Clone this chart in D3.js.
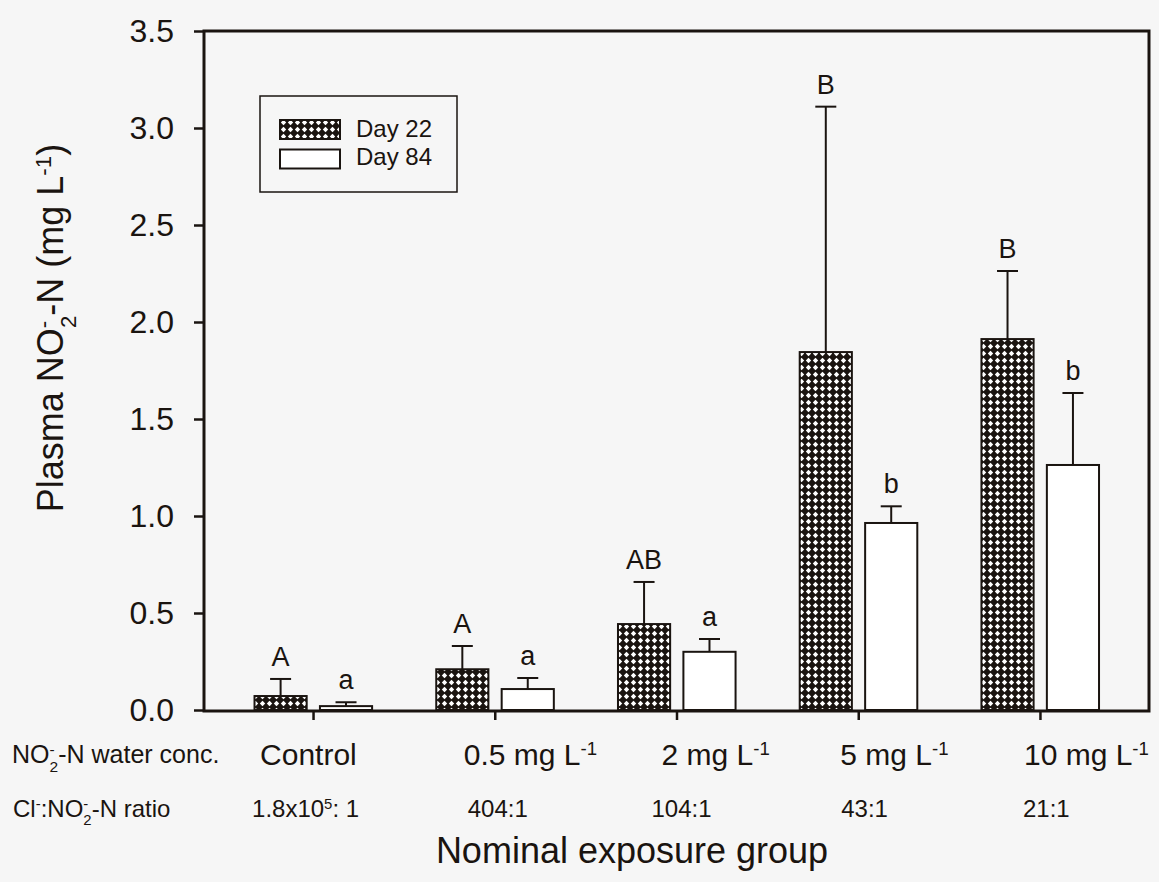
<!DOCTYPE html>
<html>
<head>
<meta charset="utf-8">
<script src="https://cdn.jsdelivr.net/npm/d3@7"></script>
<style>
  body { margin: 0; background: #f6f6f6; }
  svg { display: block; font-family: "Liberation Sans", Arial, sans-serif; }
</style>
</head>
<body>
<div id="chart"></div>
<script>
// plasma nitrite by exposure group, two sampling days
var groups    = ["Control", "0.5 mg L", "2 mg L", "5 mg L", "10 mg L"];
var ratios    = ["1.8x10", "404:1", "104:1", "43:1", "21:1"];
var day22     = [0.072, 0.21, 0.443, 1.845, 1.912];
var day22err  = [0.088, 0.12, 0.217, 1.265, 0.351];
var day84     = [0.02, 0.108, 0.30, 0.964, 1.263];
var day84err  = [0.02, 0.057, 0.066, 0.086, 0.371];
var day22lab  = ["A", "A", "AB", "B", "B"];
var day84lab  = ["a", "a", "a", "b", "b"];
var yTicks    = [0, 0.5, 1, 1.5, 2, 2.5, 3, 3.5];

var W = 1159, H = 882;
var ink = "#1a1410";
var m = {left: 204, right: 1149, top: 31, bottom: 711};

var svg = d3.select("#chart").append("svg")
    .attr("width", W).attr("height", H);

svg.append("rect").attr("width", W).attr("height", H).attr("fill", "#f6f6f6");

/// crosshatch for day 22
var pat = svg.append("defs").append("pattern")
    .attr("id", "hatch")
    .attr("patternUnits", "userSpaceOnUse")
    .attr("width", 7).attr("height", 7);
pat.append("rect").attr("width", 7).attr("height", 7).attr("fill", ink);
pat.append("path").attr("d", "M3.5,0.8L6.2,3.5L3.5,6.2L0.8,3.5Z").attr("fill", "#fff");

var x = d3.scaleLinear().domain([-0.6, 4.6]).range([m.left, m.right]);
var y = d3.scaleLinear().domain([0, 3.5]).range([m.bottom - 1, m.top]);

var barW = x(0.287) - x(0);
var off22 = x(-0.322) - x(0);
var off84 = x(0.038) - x(0);

/// axes
var yAxis = svg.append("g")
    .attr("transform", "translate(" + m.left + ",0)")
    .call(d3.axisLeft(y).tickValues(yTicks).tickFormat(d3.format(".1f"))
          .tickSize(10).tickPadding(20));
yAxis.select(".domain").remove();
yAxis.selectAll("line").attr("stroke", ink).attr("stroke-width", 2.5);
yAxis.selectAll("text").attr("fill", ink).attr("font-size", 32)
    .attr("font-family", "Liberation Sans, Arial, sans-serif");

var xAxis = svg.append("g")
    .attr("transform", "translate(0," + m.bottom + ")")
    .call(d3.axisBottom(x).tickValues(d3.range(groups.length)).tickFormat("").tickSize(9));
xAxis.select(".domain").remove();
xAxis.selectAll("line").attr("stroke", ink).attr("stroke-width", 2.5);

/// bars
function drawSeries(vals, errs, labs, off, fill) {
    var g = svg.append("g");
    g.selectAll("rect").data(vals).enter().append("rect")
        .attr("x", (d, i) => x(i) + off)
        .attr("y", d => y(d))
        .attr("width", barW)
        .attr("height", d => y(0) - y(d))
        .attr("fill", fill)
        .attr("stroke", ink).attr("stroke-width", 2);
    g.selectAll("line.err").data(vals).enter().append("line")
        .attr("class", "err")
        .attr("x1", (d, i) => x(i) + off + barW / 2)
        .attr("x2", (d, i) => x(i) + off + barW / 2)
        .attr("y1", d => y(d))
        .attr("y2", (d, i) => y(d + errs[i]))
        .attr("stroke", ink).attr("stroke-width", 2);
    g.selectAll("line.cap").data(vals).enter().append("line")
        .attr("class", "cap")
        .attr("x1", (d, i) => x(i) + off + barW / 2 - 10.5)
        .attr("x2", (d, i) => x(i) + off + barW / 2 + 10.5)
        .attr("y1", (d, i) => y(d + errs[i]))
        .attr("y2", (d, i) => y(d + errs[i]))
        .attr("stroke", ink).attr("stroke-width", 2);
    g.selectAll("text").data(vals).enter().append("text")
        .attr("x", (d, i) => x(i) + off + barW / 2)
        .attr("y", (d, i) => y(d + errs[i]) - 13)
        .attr("text-anchor", "middle")
        .attr("font-size", 27)
        .attr("fill", ink)
        .text((d, i) => labs[i]);
}
drawSeries(day22, day22err, day22lab, off22, "url(#hatch)");
drawSeries(day84, day84err, day84lab, off84, "#fff");

/// frame
svg.append("rect")
    .attr("x", m.left).attr("y", m.top)
    .attr("width", m.right - m.left).attr("height", m.bottom - m.top)
    .attr("fill", "none").attr("stroke", ink).attr("stroke-width", 3);

/// legend
var leg = svg.append("g");
leg.append("rect").attr("x", 260).attr("y", 96).attr("width", 197).attr("height", 96)
    .attr("fill", "none").attr("stroke", ink).attr("stroke-width", 1.5);
[["Day 22", "url(#hatch)"], ["Day 84", "#fff"]].forEach(function (s, i) {
    leg.append("rect").attr("x", 280).attr("y", 120 + i * 29.5).attr("width", 60).attr("height", 19)
        .attr("fill", s[1]).attr("stroke", ink).attr("stroke-width", 2);
    leg.append("text").attr("x", 356).attr("y", 137 + i * 28).attr("font-size", 24)
        .attr("fill", ink).text(s[0]);
});

/// helpers for sub/superscripts
function sup(t, s) { t.append("tspan").attr("font-size", "62%").attr("baseline-shift", "super").text(s); }

/// y label
var yl = svg.append("text")
    .attr("transform", "translate(63,328) rotate(-90)")
    .attr("text-anchor", "middle").attr("font-size", 36).attr("fill", ink);
yl.append("tspan").text("Plasma NO");
sup(yl, "-");
yl.append("tspan").attr("font-size", "62%").attr("baseline-shift", "sub").attr("dx", "-0.33em").text("2");
yl.append("tspan").text("-N (mg L");
sup(yl, "-1");
yl.append("tspan").text(")");

/// row headers
var r1 = svg.append("text").attr("x", 12).attr("y", 763).attr("font-size", 25).attr("fill", ink);
r1.append("tspan").text("NO");
sup(r1, "-");
r1.append("tspan").attr("font-size", "62%").attr("baseline-shift", "sub").attr("dx", "-0.33em").text("2");
r1.append("tspan").text("-N water conc.");

var r2 = svg.append("text").attr("x", 13).attr("y", 817).attr("font-size", 24).attr("fill", ink);
r2.append("tspan").text("Cl");
sup(r2, "-");
r2.append("tspan").text(":NO");
sup(r2, "-");
r2.append("tspan").attr("font-size", "62%").attr("baseline-shift", "sub").attr("dx", "-0.33em").text("2");
r2.append("tspan").text("-N ratio");

/// group labels under the axis
var labelShift = [-53, -31, -15, -18, -16];
var ratioShift = [-61, -27, -25, -17, -17];
groups.forEach(function (gname, i) {
    var t = svg.append("text").attr("x", x(i) + labelShift[i]).attr("y", 765)
        .attr("font-size", 30).attr("fill", ink);
    t.append("tspan").text(gname);
    if (i > 0) sup(t, "-1");
});
ratios.forEach(function (r, i) {
    var t = svg.append("text").attr("x", x(i) + ratioShift[i]).attr("y", 817)
        .attr("font-size", 24).attr("fill", ink);
    t.append("tspan").text(r);
    if (i === 0) { sup(t, "5"); t.append("tspan").text(": 1"); }
});

/// x title
svg.append("text").attr("x", 632).attr("y", 863).attr("text-anchor", "middle")
    .attr("font-size", 36).attr("fill", ink).text("Nominal exposure group");
</script>
</body>
</html>
